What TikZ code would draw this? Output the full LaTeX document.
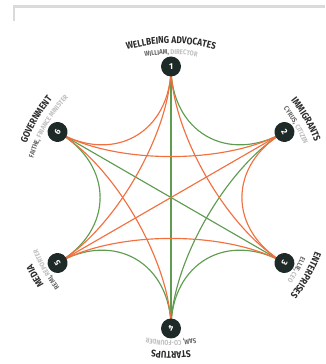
\documentclass[tikz,border=0pt]{standalone}
\usepackage{fontspec}
\setmainfont{Fira Sans}
\newfontfamily\lblfont[FakeStretch=0.85]{Fira Sans}
\usetikzlibrary{calc,decorations.text,backgrounds}
\definecolor{ttl}{HTML}{2B2B2B}
\definecolor{nmc}{HTML}{666666}
\definecolor{rlc}{HTML}{BDBDBD}
\definecolor{hubc}{HTML}{1D2A28}
\definecolor{org}{HTML}{F2703F}
\definecolor{grn}{HTML}{5F9C50}
\definecolor{frm}{HTML}{DADADA}
\newcommand\ttlfmt{\lblfont\bfseries\fontsize{9.8}{10}\selectfont\color{ttl}}
\newcommand\nmfmt{\lblfont\bfseries\fontsize{7}{7}\selectfont\color{nmc}}
\newcommand\rlfmt{\lblfont\bfseries\fontsize{7}{7}\selectfont\color{rlc}}
\newcommand\hublabel[4]{%
  \path[decorate,decoration={text along path,text align=center,text={|\ttlfmt|#2}}]
    ($(C)+(#1+40:154)$) arc[start angle=#1+40,end angle=#1-40,radius=154];
  \path[decorate,decoration={text along path,text align=center,text={|\nmfmt|#3{\ }|\rlfmt|#4}}]
    ($(C)+(#1+40:143)$) arc[start angle=#1+40,end angle=#1-40,radius=143];
}
\tikzset{
  hub/.style={circle,fill=hubc,minimum size=20pt,inner sep=0pt,text=white,font=\bfseries\fontsize{8.5}{8.5}\selectfont},
  edge/.style={line width=1.15pt},
  frameline/.style={draw=frm,line width=2.5pt}
}
\begin{document}
\begin{tikzpicture}[x=1pt,y=1pt]
\useasboundingbox (0,0) rectangle (325,364);
\draw[frameline] (14,343) -- (14,357.5) -- (325,357.5);
\coordinate (C) at (171,166.5);
\foreach \i/\a in {1/90,2/30,3/-30,4/-90,5/-150,6/150}{
  \node[hub,rotate=\a-90] (n\i) at ($(C)+(\a:131)$) {\i};
}
\begin{scope}[on background layer]
\foreach \p/\q/\c in {1/2/grn,3/4/grn,4/5/grn,5/6/grn,2/4/grn,1/4/grn,3/6/grn,
                      1/6/org,2/3/org,2/6/org,3/5/org,1/5/org,4/6/org,1/3/org,2/5/org}{
  \draw[edge,\c] (n\p.center) .. controls ($(n\p.center)!0.5!(C)$) and ($(n\q.center)!0.5!(C)$) .. (n\q.center);
}
\end{scope}
\hublabel{90}{WELLBEING ADVOCATES}{WILLIAM,}{DIRECTOR}
\hublabel{30}{IMMIGRANTS}{CYRUS,}{CITIZEN}
\hublabel{-30}{ENTERPRISES}{ELLIE,}{CEO}
\hublabel{-90}{STARTUPS}{SAM,}{CO-FOUNDER}
\hublabel{-150}{MEDIA}{REMI,}{REPORTER}
\hublabel{150}{GOVERNMENT}{FAITHE,}{FINANCE MINISTER}
\end{tikzpicture}
\end{document}
